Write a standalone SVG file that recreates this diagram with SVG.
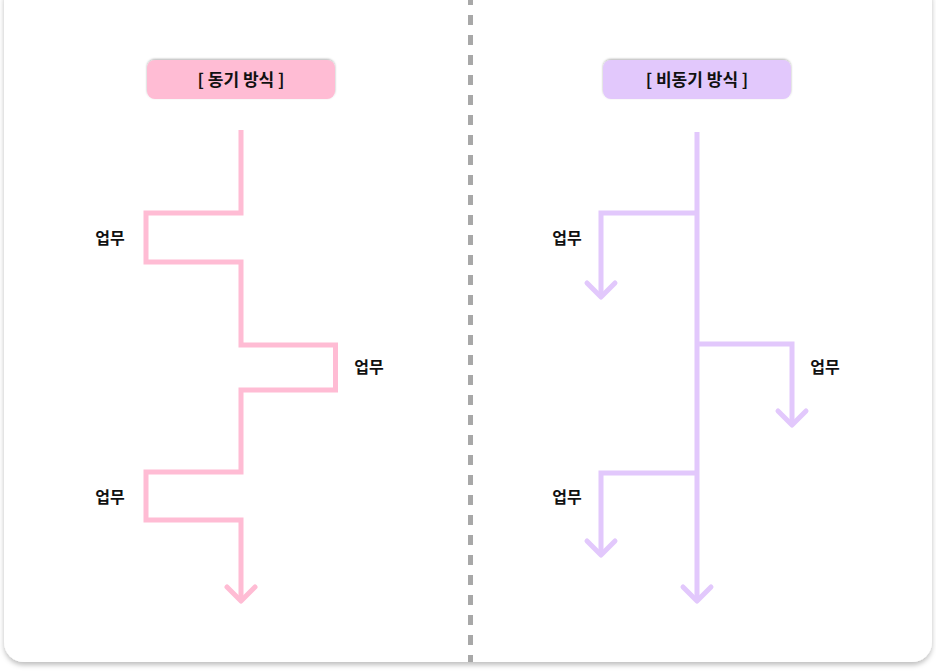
<svg xmlns="http://www.w3.org/2000/svg" width="936" height="671" viewBox="0 0 936 671">
<defs>
<filter id="sh" x="-5%" y="-5%" width="110%" height="110%">
<feDropShadow dx="0" dy="3" stdDeviation="2.5" flood-color="#000" flood-opacity="0.25"/>
</filter>
<filter id="tsh" x="-5%" y="-20%" width="110%" height="140%">
<feDropShadow dx="0" dy="-1" stdDeviation="1.2" flood-color="#000" flood-opacity="0.3"/>
</filter>
<style>
.title{font-family:"Noto Sans CJK KR","Noto Sans",sans-serif;font-weight:700;font-size:17px;fill:#111;text-anchor:middle}
.lbl{font-family:"Noto Sans CJK KR","Noto Sans",sans-serif;font-weight:700;font-size:16px;fill:#111;text-anchor:middle}
.pk{fill:none;stroke:#ffbcd4;stroke-width:5;stroke-linejoin:miter;stroke-linecap:butt}
.pu{fill:none;stroke:#e2c8fc;stroke-width:5;stroke-linejoin:miter;stroke-linecap:butt}
.ah{fill:none;stroke-width:5;stroke-linecap:round;stroke-linejoin:round}
</style>
</defs>
<rect width="936" height="671" fill="#ffffff"/>
<rect x="4" y="-20" width="928" height="682" rx="20" fill="#ffffff" filter="url(#sh)"/>
<line x1="470.5" y1="0" x2="470.5" y2="662" stroke="#a8a8a8" stroke-width="5" stroke-dasharray="10 10" stroke-dashoffset="5"/>

<g id="title-sync">
<rect x="147" y="60" width="188" height="39" rx="8" fill="#ffbcd4" filter="url(#tsh)"/>
<text class="title" x="241" y="86">[ 동기 방식 ]</text>
</g>
<g id="title-async">
<rect x="603" y="60" width="188" height="39" rx="8" fill="#e2c8fc" filter="url(#tsh)"/>
<text class="title" x="697" y="86">[ 비동기 방식 ]</text>
</g>

<g id="label-sync-1"><text class="lbl" x="110" y="244">업무</text></g>
<g id="label-sync-2"><text class="lbl" x="369" y="373">업무</text></g>
<g id="label-sync-3"><text class="lbl" x="110" y="503">업무</text></g>
<g id="label-async-1"><text class="lbl" x="567" y="244">업무</text></g>
<g id="label-async-2"><text class="lbl" x="825" y="373">업무</text></g>
<g id="label-async-3"><text class="lbl" x="567" y="503">업무</text></g>

<g id="connectors">
<path class="pk" d="M241,130 V213 H146 V262 H241 V345 H335.5 V390 H241 V472 H146 V520 H241 V600"/>
<path class="ah" stroke="#ffbcd4" d="M227,587 L241,601 L255,587"/>

<path class="pu" d="M697,132 V600"/>
<path class="ah" stroke="#e2c8fc" d="M683,587 L697,601 L711,587"/>
<path class="pu" d="M697,213 H601 V296"/>
<path class="ah" stroke="#e2c8fc" d="M587,283 L601,297 L615,283"/>
<path class="pu" d="M697,344 H792 V424"/>
<path class="ah" stroke="#e2c8fc" d="M778,411 L792,425 L806,411"/>
<path class="pu" d="M697,473 H601 V554"/>
<path class="ah" stroke="#e2c8fc" d="M587,541 L601,555 L615,541"/>
</g>
</svg>
